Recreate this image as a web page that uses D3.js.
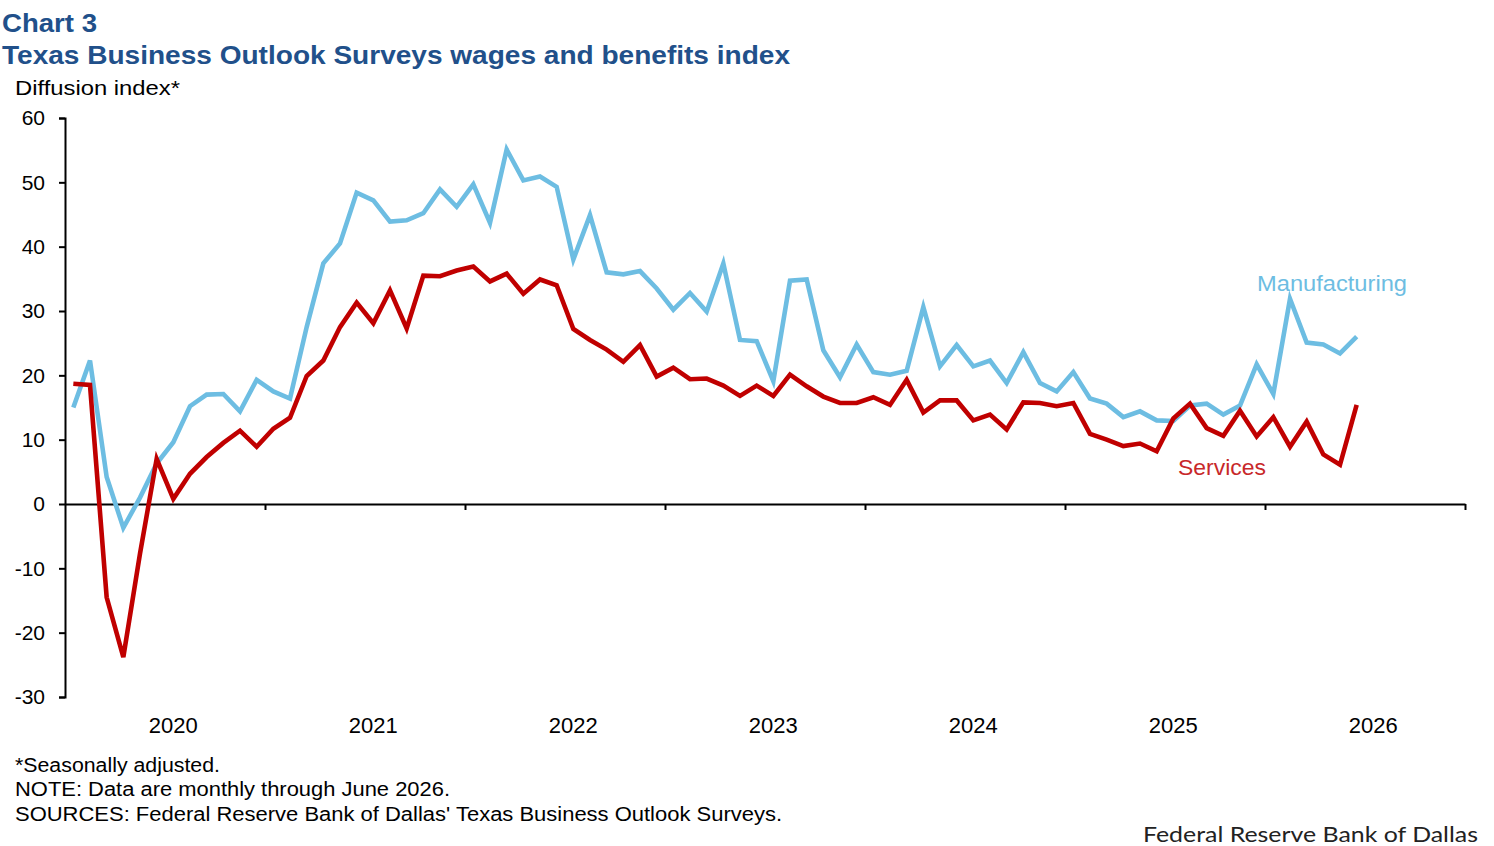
<!DOCTYPE html>
<html>
<head>
<meta charset="utf-8">
<script src="https://cdn.jsdelivr.net/npm/d3@7"></script>
<style>
  body { margin: 0; background: #fff; }
  svg { display: block; font-family: "Liberation Sans", Arial, sans-serif; }
</style>
</head>
<body>
<svg id="chart"></svg>
<script>
// monthly values, Jan 2020 through Jun 2026
const manufacturing = [
  15.0, 22.3, 4.2, -3.7, 1.0, 6.3, 9.6, 15.2, 17.0, 17.1, 14.4, 19.3,
  17.5, 16.4, 27.5, 37.4, 40.5, 48.4, 47.2, 43.9, 44.1, 45.2, 48.9, 46.2,
  49.7, 43.7, 55.1, 50.3, 50.9, 49.3, 38.0, 44.9, 36.0, 35.7, 36.2, 33.5,
  30.2, 32.8, 29.9, 37.4, 25.5, 25.3, 19.1, 34.7, 34.9, 23.9, 19.7, 24.8,
  20.5, 20.1, 20.7, 30.6, 21.4, 24.7, 21.4, 22.3, 18.8, 23.6, 18.8, 17.5,
  20.5, 16.4, 15.6, 13.5, 14.4, 13.0, 12.9, 15.3, 15.6, 13.9, 15.3, 21.7,
  17.1, 31.9, 25.1, 24.8, 23.4, 26.0
];
const services = [
  18.7, 18.5, -14.5, -23.8, -7.7, 7.0, 0.8, 4.7, 7.3, 9.5, 11.4, 8.9,
  11.7, 13.4, 19.9, 22.3, 27.5, 31.3, 28.1, 33.2, 27.3, 35.5, 35.4, 36.3,
  36.9, 34.6, 35.8, 32.7, 34.9, 34.0, 27.2, 25.5, 24.0, 22.1, 24.7, 19.8,
  21.2, 19.4, 19.5, 18.4, 16.8, 18.4, 16.8, 20.1, 18.3, 16.7, 15.7, 15.7,
  16.6, 15.4, 19.3, 14.2, 16.1, 16.1, 13.0, 13.9, 11.6, 15.8, 15.7, 15.2,
  15.7, 10.9, 10.0, 9.0, 9.4, 8.2, 13.3, 15.6, 11.8, 10.6, 14.5, 10.5,
  13.5, 8.9, 12.8, 7.7, 6.1, 15.4
];
const years = [2020, 2021, 2022, 2023, 2024, 2025, 2026];
const yTicks = [-30, -20, -10, 0, 10, 20, 30, 40, 50, 60];
const notes = [
  "*Seasonally adjusted.",
  "NOTE: Data are monthly through June 2026.",
  "SOURCES: Federal Reserve Bank of Dallas' Texas Business Outlook Surveys."
];

const W = 1494, H = 846;
const blue = "#6dbde2", red = "#c00000", titleColor = "#21508a";

const svg = d3.select("#chart").attr("width", W).attr("height", H);

const x = d3.scaleLinear().domain([0, years.length * 12]).range([65, 1465]);
const y = d3.scaleLinear().domain([-30, 60]).range([697, 118]);

// titles
svg.append("text").attr("x", 2).attr("y", 32)
  .attr("font-size", 25).attr("font-weight", "bold").attr("fill", titleColor)
  .attr("textLength", 95).attr("lengthAdjust", "spacingAndGlyphs")
  .text("Chart 3");
svg.append("text").attr("x", 2).attr("y", 63.5)
  .attr("font-size", 25).attr("font-weight", "bold").attr("fill", titleColor)
  .attr("textLength", 788).attr("lengthAdjust", "spacingAndGlyphs")
  .text("Texas Business Outlook Surveys wages and benefits index");
svg.append("text").attr("x", 15).attr("y", 95)
  .attr("font-size", 21)
  .attr("textLength", 165).attr("lengthAdjust", "spacingAndGlyphs")
  .text("Diffusion index*");

// y axis
const yAxis = svg.append("g")
  .attr("transform", `translate(${x(0)},0)`)
  .call(d3.axisLeft(y).tickValues(yTicks).tickSize(6).tickPadding(14)
    .tickFormat(d => String(d)));
yAxis.selectAll("text").attr("font-size", 21).attr("fill", "#000")
  .attr("font-family", "Liberation Sans, Arial, sans-serif");

// x axis on the zero line
const xAxis = svg.append("g")
  .attr("transform", `translate(0,${y(0)})`)
  .call(d3.axisBottom(x)
    .tickValues(years.map((d, i) => (i + 1) * 12))
    .tickFormat("").tickSize(6).tickSizeOuter(0));

svg.selectAll(".domain, .tick line").attr("stroke", "#000").attr("stroke-width", 2);

// year labels
svg.append("g").selectAll("text")
  .data(years)
  .join("text")
  .attr("x", (d, i) => x(i * 12 + 6.5))
  .attr("y", 733)
  .attr("text-anchor", "middle")
  .attr("font-size", 22)
  .text(d => d);

// lines
const line = d3.line()
  .x((d, i) => x(i + 0.5))
  .y(d => y(d));

svg.append("path")
  .datum(manufacturing)
  .attr("fill", "none")
  .attr("stroke", blue)
  .attr("stroke-width", 4.6)
  .attr("d", line);

svg.append("path")
  .datum(services)
  .attr("fill", "none")
  .attr("stroke", red)
  .attr("stroke-width", 4.6)
  .attr("d", line);

// series labels
svg.append("text").attr("x", 1257).attr("y", 290.5)
  .attr("font-size", 22).attr("fill", blue)
  .attr("textLength", 150).attr("lengthAdjust", "spacingAndGlyphs")
  .text("Manufacturing");
svg.append("text").attr("x", 1178).attr("y", 474.5)
  .attr("font-size", 22).attr("fill", "#c8282a")
  .attr("textLength", 88).attr("lengthAdjust", "spacingAndGlyphs")
  .text("Services");

// footnotes
const noteWidths = [205, 435, 767];
svg.append("g").selectAll("text")
  .data(notes)
  .join("text")
  .attr("x", 15)
  .attr("y", (d, i) => 771.5 + i * 24.5)
  .attr("font-size", 19.5)
  .attr("textLength", (d, i) => noteWidths[i])
  .attr("lengthAdjust", "spacingAndGlyphs")
  .text(d => d);

svg.append("text").attr("x", 1478).attr("y", 842)
  .attr("text-anchor", "end")
  .attr("font-family", "Lato, 'Open Sans', sans-serif")
  .attr("font-size", 21).attr("fill", "#222")
  .attr("textLength", 335).attr("lengthAdjust", "spacingAndGlyphs")
  .text("Federal Reserve Bank of Dallas");
</script>
</body>
</html>
